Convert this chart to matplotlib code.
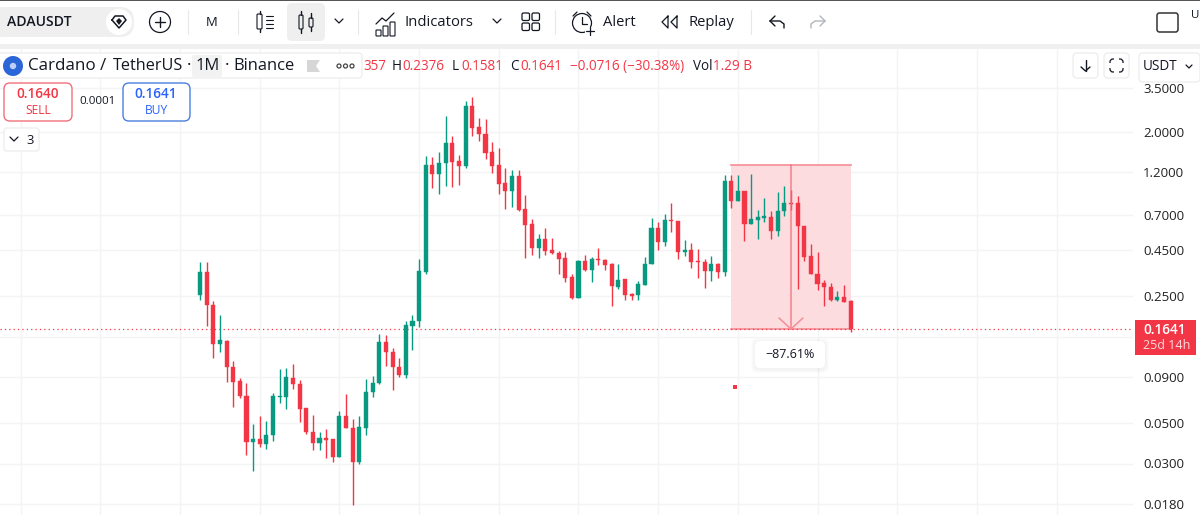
import matplotlib
matplotlib.use("Agg")
import matplotlib.pyplot as plt
from matplotlib.patches import Rectangle, FancyBboxPatch, Circle, Polygon
import numpy as np

plt.rcParams["font.family"] = ["Open Sans", "DejaVu Sans"]

# monthly ADA/USDT candles
opens = [.254, .340, .2243, .1372, .142, .1025, .0856, .071, .0392, .0407,
         .0382, .0428, .0701, .0701, .0892, .0827, .0604, .045, .0387, .0417,
         .0407, .0327, .0545, .0471, .0305, .0473, .074, .083, .1401, .1239,
         .1025, .0926, .1717, .1821, .340, 1.315, 1.178, 1.348, 1.738, 1.388,
         1.298, 2.786, 2.126, 1.961, 1.556, 1.315, 1.051, .95, 1.148, .757,
         .625, .46, .518, .448, .433, .405, .319, .245, .392, .349,
         .4, .397, .375, .282, .311, .257, .2534, .289, .3755, .592,
         .496, .658, .65, .439, .448, .392, .387, .343, .374, .3395,
         1.082, .84, .952, .628, .658, .677, .683, .568, .735, .8165,
         .813, .6098, .4145, .333, .2955, .2825, .239, .246, .2357]
highs = [.387, .387, .236, .198, .1443, .1102, .0888, .0834, .0492, .0547,
         .0511, .0735, .0999, .1012, .1065, .0867, .0608, .0558, .045, .0466,
         .0407, .0582, .0728, .0529, .0545, .0874, .0915, .1553, .1532, .1293,
         .1144, .1837, .198, .4005, 1.479, 1.467, 1.556, 2.455, 1.906, 1.498,
         2.968, 3.111, 2.384, 2.372, 1.76, 1.631, 1.266, 1.239, 1.239, .906,
         .669, .551, .592, .525, .443, .437, .33, .397, .4224, .411,
         .462, .4, .381, .377, .312, .261, .305, .413, .675, .642,
         .71, .813, .652, .511, .49, .4575, .402, .4155, .382, 1.163,
         1.163, 1.163, .952, 1.178, .747, .869, .7365, .934, 1.012, .962,
         .892, .611, .485, .439, .307, .294, .2686, .289, .2376]
lows = [.239, .171, .1148, .1228, .0848, .0612, .0686, .0336, .0274, .0369,
        .0362, .0397, .0647, .0601, .077, .0506, .0438, .0354, .0354, .032,
        .0305, .0324, .0468, .0178, .03, .0428, .0698, .0827, .1029, .0759,
        .0895, .0884, .1271, .1695, .333, .99, .918, 1.016, 1.003, 1.025,
        1.266, 1.912, 1.796, 1.424, 1.188, .918, .754, .776, .735, .407,
        .424, .407, .4224, .429, .332, .2975, .241, .244, .346, .3,
        .371, .349, .2215, .275, .239, .237, .239, .287, .374, .448,
        .475, .5655, .402, .4155, .359, .3165, .278, .303, .3165, .322,
        .769, .835, .5065, .625, .5145, .644, .5145, .5375, .687, .747,
        .275, .3885, .332, .271, .2215, .234, .234, .231, .1581]
closes = [.3415, .2223, .1372, .143, .1016, .0848, .0704, .0393, .0407, .0382,
          .0432, .071, .071, .0895, .082, .0601, .0445, .0388, .0417, .0405,
          .0327, .0547, .0471, .0305, .0477, .0747, .0834, .1401, .1228, .1016,
          .0926, .173, .183, .3446, 1.315, 1.178, 1.354, 1.738, 1.376, 1.303,
          2.786, 2.117, 1.954, 1.542, 1.303, 1.038, .95, 1.148, .75, .62,
          .46, .518, .4427, .433, .402, .3165, .245, .392, .349, .402,
          .397, .371, .284, .309, .2534, .2512, .293, .377, .592, .496,
          .654, .65, .439, .448, .387, .387, .343, .374, .3395, 1.082,
          .84, .95, .628, .666, .683, .687, .568, .7365, .813, .806,
          .607, .4125, .332, .2925, .28, .239, .246, .233, .1641]

price_ticks = [3.5, 2.0, 1.2, 0.7, 0.45, 0.25, 0.15, 0.09, 0.05, 0.03, 0.018]
tick_labels = ["3.5000", "2.0000", "1.2000", "0.7000", "0.4500", "0.2500", "",
               "0.0900", "0.0500", "0.0300", "0.0180"]
month_grid = [-27, -15, -3, 9, 21, 33, 45, 57, 69, 81, 93, 105, 117, 129]

last_price = 0.1641
measure_start = 80
measure_mid = 89
measure_end = 98
measure_top = 1.3244
measure_pct = "\u221287.61%"
stray_x = 80.5
stray_price = 0.0793

GREEN = "#089981"
RED = "#F23645"
INK = "#131722"

W, H = 1200, 515
fig = plt.figure(figsize=(W / 100, H / 100), dpi=100)
ax = fig.add_axes([0, 0, 1, 1])

# candle index 0 sits at x=200px, 6.64px per candle; 78.9px per e-fold of price from 3.5 at y=88
ax.set_xlim(-200 / 6.64, (W - 200) / 6.64)
ax.set_yscale("log")
ax.set_ylim(3.5 * np.exp(-(H - 88) / 78.9), 3.5 * np.exp(88 / 78.9))
ax.axis("off")

grid_right = (1132 - 200) / 6.64
for p in price_ticks:
    ax.plot([ax.get_xlim()[0], grid_right], [p, p], color="#f3f4f6", lw=1, zorder=1)
for m in month_grid:
    ax.axvline(m, color="#f3f4f6", lw=1, zorder=1)

# measuring tool sits under the candles
ax.add_patch(Rectangle((measure_start, last_price), measure_end - measure_start,
                       measure_top - last_price, facecolor="#fcdcdf", edgecolor="none", zorder=2))
ax.plot([measure_start, measure_end], [measure_top, measure_top], color="#f58d96", lw=1.2, zorder=2.5)
ax.plot([measure_start, measure_end], [last_price, last_price], color="#f58d96", lw=1.2, zorder=2.5)

ax.plot([ax.get_xlim()[0], grid_right], [last_price, last_price], color=RED, lw=0.9,
        ls=(0, (1, 2.5)), zorder=2.6)

x = np.arange(len(opens))
o = np.array(opens)
c = np.array(closes)
colors = [GREEN if b >= a else RED for a, b in zip(opens, closes)]
ax.vlines(x, lows, highs, colors=colors, lw=1.0, zorder=3)
ax.bar(x, np.abs(c - o), bottom=np.minimum(o, c), width=0.62, color=colors,
       edgecolor=colors, lw=0.3, zorder=4)

# arrow down the middle of the measured range
ax.plot([measure_mid, measure_mid], [measure_top, last_price], color="#f2707c", lw=1.1, alpha=0.85, zorder=5)
ax.plot(stray_x, stray_price, "s", color=RED, ms=2.6, mew=0, zorder=5)

# everything below is the terminal chrome, drawn in pixel coordinates
ui = fig.add_axes([0, 0, 1, 1], zorder=5)
ui.set_xlim(0, W)
ui.set_ylim(H, 0)
ui.axis("off")
ui.patch.set_alpha(0)


def txt(x, y, s, size=13, color=INK, ha="left", **kw):
    return ui.text(x, y + 1.3, s, fontsize=size * 0.72, color=color, ha=ha, va="center", **kw)


def box(x0, y0, x1, y1, r=4, fc="white", ec="none", lw=1, z=2):
    p = FancyBboxPatch((x0 + r, y0 + r), x1 - x0 - 2 * r, y1 - y0 - 2 * r,
                       boxstyle="round,pad=%g,rounding_size=%g" % (r, r),
                       facecolor=fc, edgecolor=ec, lw=lw, zorder=z)
    ui.add_patch(p)
    return p


def line(xs, ys, color=INK, lw=1.0, z=5):
    ui.plot(xs, ys, color=color, lw=lw, zorder=z, solid_capstyle="round", solid_joinstyle="round")


def chevron(cx, cy, w=4):
    line([cx - w, cx, cx + w], [cy - 2, cy + 2, cy - 2], lw=0.9)


# toolbar background
ui.add_patch(Rectangle((0, 0), W, 44, facecolor="white", edgecolor="none", zorder=1))
ui.add_patch(Rectangle((0, 44), W, 5, facecolor="#f0f0f0", edgecolor="none", zorder=1))
ui.add_patch(Rectangle((0, 0), W, 1.2, facecolor="#555555", edgecolor="none", zorder=2))

box(-10, 7, 134, 37, r=14, fc="#efefef")
txt(7, 21, "ADAUSDT", 14, weight="semibold")
ui.add_patch(Circle((119, 22), 13, facecolor="white", edgecolor="none", zorder=3))
line([112, 115, 123, 126, 119, 112], [20, 16, 16, 20, 28, 20], lw=1.1)
ui.add_patch(Polygon([[116, 21], [119, 18], [122, 21], [119, 25]], facecolor=INK, zorder=5))

ui.add_patch(Circle((160, 22), 10.5, facecolor="none", edgecolor=INK, lw=0.9, zorder=4))
line([155, 165], [22, 22])
line([160, 160], [17, 27])

for sx in [188, 238, 358, 555, 751]:
    line([sx, sx], [10, 34], color="#e8e8e8", lw=0.8)

txt(212, 21, "M", 13, ha="center")

# bars-list icon
box(257, 14, 262, 29, r=1, fc="white", ec=INK, lw=0.8, z=4)
line([259.5, 259.5], [11, 14])
line([259.5, 259.5], [29, 32])
for ly in [16, 20, 24, 28]:
    line([266, 273], [ly, ly], lw=0.8)

# candle type button
box(287, 3, 325, 41, r=5, fc="#efefef")
box(299, 15, 303, 29, r=1, fc="none", ec=INK, lw=0.8, z=4)
line([301, 301], [11, 15])
line([301, 301], [29, 33])
box(309, 18, 313, 27, r=1, fc="none", ec=INK, lw=0.8, z=4)
line([311, 311], [13, 18])
line([311, 311], [27, 31])

chevron(339, 21)

# indicators icon
for bx, by in [(376, 30), (383, 26), (390, 22)]:
    box(bx, by, bx + 5, 36, r=0.5, fc="none", ec=INK, lw=0.8, z=4)
line([376, 382, 386, 394], [24, 18, 21, 13], lw=0.9)
txt(404, 21, "Indicators", 14.8)
chevron(497, 21)

for qx, qy in [(522, 13), (532, 13), (522, 23), (532, 23)]:
    box(qx, qy, qx + 7.5, qy + 7.5, r=1.5, fc="none", ec=INK, lw=0.9, z=4)

# alert clock
ui.add_patch(Circle((582, 23), 9.5, facecolor="none", edgecolor=INK, lw=0.9, zorder=4))
line([582, 582, 587], [17, 24, 24], lw=0.9)
line([573, 577], [16, 12], lw=0.9)
line([587, 591], [12, 16], lw=0.9)
ui.add_patch(Rectangle((585, 27), 10, 9, facecolor="white", edgecolor="none", zorder=4.5))
line([586, 594], [31, 31], lw=0.9)
line([590, 590], [27, 35], lw=0.9)
txt(603, 21, "Alert", 14.8)

# replay chevrons
line([668, 662, 668, 668], [16, 22, 28, 16], lw=0.9)
line([677, 671, 677, 677], [16, 22, 28, 16], lw=0.9)
txt(689, 21, "Replay", 14.8)

# undo / redo
line([770, 775], [21, 16], lw=1)
line([770, 775], [21, 26], lw=1)
line([770, 780, 784, 784], [21, 21, 24, 28], lw=1)
line([825, 820], [21, 16], color="#b2b5be", lw=1)
line([825, 820], [21, 26], color="#b2b5be", lw=1)
line([825, 815, 811, 811], [21, 21, 24, 28], color="#b2b5be", lw=1)

box(1157, 13, 1178, 32, r=2.5, fc="none", ec="#333333", lw=1.1, z=4)
txt(1191, 14, "U", 11.5)

# symbol legend strip
box(-6, 53, 362, 78, r=4, fc="white", ec="#eeeeee", lw=1)
ui.add_patch(Circle((13, 66), 10, facecolor="#2b66d9", edgecolor="none", zorder=4))
ui.add_patch(Circle((13, 66), 3.2, facecolor="#bcd0f5", edgecolor="none", zorder=5))
box(192, 55, 222, 77, r=2, fc="#f2f2f2", z=3)
txt(28, 65, "Cardano", 17, zorder=6)
txt(100, 65, "/", 17, zorder=6)
txt(113, 65, "TetherUS", 16.2, zorder=6)
txt(189, 65, "\u00b7", 17, ha="center", zorder=6)
txt(196, 65, "1M", 16.5, zorder=6)
txt(227, 65, "\u00b7", 17, ha="center", zorder=6)
txt(233, 65, "Binance", 16.5, zorder=6)
ui.add_patch(Polygon([[307, 60], [320, 60], [316, 66], [320, 72], [307, 72]], facecolor="#d6d6d6", zorder=5))
for dx in [339, 345.5, 352]:
    ui.add_patch(Circle((dx, 66), 2, facecolor="none", edgecolor="#444444", lw=0.9, zorder=5))

# OHLC readout
txt(363, 65, "357", 13.5, RED)
txt(392, 65, "H", 13.5)
txt(402, 65, "0.2376", 13.5, RED)
txt(452, 65, "L", 13.5)
txt(461, 65, "0.1581", 13.5, RED)
txt(510, 65, "C", 13.5)
txt(520, 65, "0.1641", 13.5, RED)
txt(570, 65, "\u22120.0716 (\u221230.38%)", 13.5, RED)
txt(693, 65, "Vol", 13.5)
txt(713, 65, "1.29 B", 13.5, RED)

# buy / sell
box(4, 83, 72, 121, r=6, fc="white", ec="#f0707c", lw=1)
txt(38, 93, "0.1640", 13.5, RED, ha="center", weight="semibold")
txt(38, 109, "SELL", 12, RED, ha="center")
txt(97, 100, "0.0001", 11.5, ha="center")
box(123, 83, 190, 121, r=6, fc="white", ec="#4a7fe0", lw=1)
txt(156, 93, "0.1641", 13.5, "#2962FF", ha="center", weight="semibold")
txt(156, 109, "BUY", 12, "#2962FF", ha="center")

box(4, 128, 39, 151, r=3, fc="white", ec="#eeeeee", lw=1)
chevron(14, 139, 4)
txt(26, 139, "3", 13)

# price axis labels
for p, lab in zip(price_ticks, tick_labels):
    if lab:
        txt(1143, 88 + 78.9 * np.log(3.5 / p), lab, 13.2, color="#222222")

# top-right buttons cover the first tick
box(1073, 53, 1098, 78, r=4, ec="#eeeeee", z=6)
line([1085.5, 1085.5], [60, 71], z=7)
line([1081, 1085.5, 1090], [67, 71, 67], z=7)
box(1104, 53, 1129, 78, r=4, ec="#eeeeee", z=6)
box(1110, 59, 1123, 72, r=3, fc="none", ec=INK, lw=0.9, z=7)
ui.add_patch(Rectangle((1114, 57), 5, 18, facecolor="white", edgecolor="none", zorder=7.5))
ui.add_patch(Rectangle((1108, 63), 18, 5, facecolor="white", edgecolor="none", zorder=7.5))
box(1139, 53, 1200, 82, r=4, ec="#eeeeee", z=6)
txt(1143, 65, "USDT", 13.5, zorder=8)
line([1186, 1189, 1192], [65, 68, 65], lw=0.9, z=8)

# last price tag
ui.add_patch(Rectangle((1135, 320), 61, 35, facecolor=RED, edgecolor="none", zorder=6))
txt(1143, 329, "0.1641", 13.5, "white", weight="semibold", zorder=7)
txt(1143, 344, "25d 14h", 12.5, "#ffd9dc", zorder=7)

# measure arrow head and percent bubble
mx = 200 + 6.64 * measure_mid
line([mx - 12, mx, mx + 12], [318, 329, 318], color="#f58d96", lw=1.1)
for i in range(4, 0, -1):
    box(755 - i, 341 - i + 1, 825 + i, 368 + i + 1, r=5, fc="#000000", z=3).set_alpha(0.012)
box(755, 341, 825, 368, r=5, fc="white", z=4)
txt(790, 353.5, measure_pct, 12.5, ha="center", zorder=6)

fig.savefig("out.png", dpi=100)
